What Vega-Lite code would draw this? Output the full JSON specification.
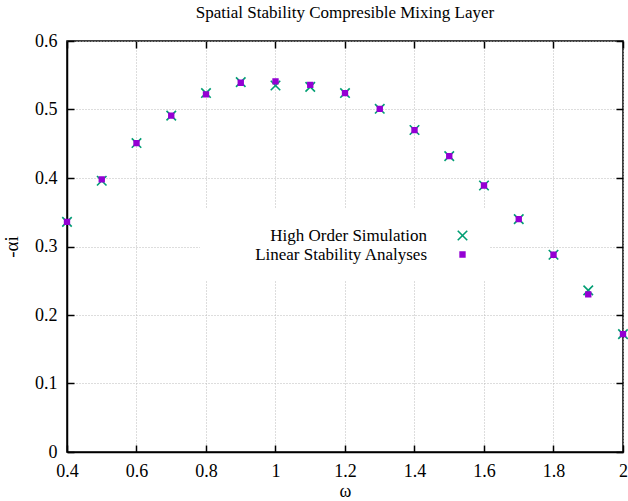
{
  "$schema": "https://vega.github.io/schema/vega-lite/v6.json",
  "width": 556,
  "height": 411,
  "autosize": {"type": "none"},
  "padding": {"left": 67, "top": 41, "right": 5, "bottom": 49},
  "background": "white",
  "title": {"text": "Spatial Stability Compresible Mixing Layer", "font": "Liberation Serif", "fontSize": 17, "fontWeight": "normal", "color": "#000", "offset": 10},
  "config": {
    "view": {"stroke": "#000", "strokeWidth": 1.5}
  },
  "data": {"values": [
    {"w": 0.4, "a": 0.336, "s": "High Order Simulation"},
    {"w": 0.5, "a": 0.396, "s": "High Order Simulation"},
    {"w": 0.6, "a": 0.451, "s": "High Order Simulation"},
    {"w": 0.7, "a": 0.491, "s": "High Order Simulation"},
    {"w": 0.8, "a": 0.524, "s": "High Order Simulation"},
    {"w": 0.9, "a": 0.540, "s": "High Order Simulation"},
    {"w": 1.0, "a": 0.535, "s": "High Order Simulation"},
    {"w": 1.1, "a": 0.533, "s": "High Order Simulation"},
    {"w": 1.2, "a": 0.524, "s": "High Order Simulation"},
    {"w": 1.3, "a": 0.501, "s": "High Order Simulation"},
    {"w": 1.4, "a": 0.470, "s": "High Order Simulation"},
    {"w": 1.5, "a": 0.432, "s": "High Order Simulation"},
    {"w": 1.6, "a": 0.389, "s": "High Order Simulation"},
    {"w": 1.7, "a": 0.340, "s": "High Order Simulation"},
    {"w": 1.8, "a": 0.288, "s": "High Order Simulation"},
    {"w": 1.9, "a": 0.236, "s": "High Order Simulation"},
    {"w": 2.0, "a": 0.172, "s": "High Order Simulation"},
    {"w": 0.4, "a": 0.336, "s": "Linear Stability Analyses"},
    {"w": 0.5, "a": 0.398, "s": "Linear Stability Analyses"},
    {"w": 0.6, "a": 0.451, "s": "Linear Stability Analyses"},
    {"w": 0.7, "a": 0.491, "s": "Linear Stability Analyses"},
    {"w": 0.8, "a": 0.522, "s": "Linear Stability Analyses"},
    {"w": 0.9, "a": 0.539, "s": "Linear Stability Analyses"},
    {"w": 1.0, "a": 0.541, "s": "Linear Stability Analyses"},
    {"w": 1.1, "a": 0.536, "s": "Linear Stability Analyses"},
    {"w": 1.2, "a": 0.524, "s": "Linear Stability Analyses"},
    {"w": 1.3, "a": 0.501, "s": "Linear Stability Analyses"},
    {"w": 1.4, "a": 0.470, "s": "Linear Stability Analyses"},
    {"w": 1.5, "a": 0.432, "s": "Linear Stability Analyses"},
    {"w": 1.6, "a": 0.389, "s": "Linear Stability Analyses"},
    {"w": 1.7, "a": 0.340, "s": "Linear Stability Analyses"},
    {"w": 1.8, "a": 0.288, "s": "Linear Stability Analyses"},
    {"w": 1.9, "a": 0.230, "s": "Linear Stability Analyses"},
    {"w": 2.0, "a": 0.172, "s": "Linear Stability Analyses"}
  ]},
  "layer": [
    {
      "mark": {"type": "point", "opacity": 0},
      "encoding": {
        "x": {"field": "w", "type": "quantitative", "scale": {"domain": [0.4, 2], "nice": false, "zero": false}, "axis": {"orient": "top", "labels": false, "grid": false, "title": null, "values": [0.4, 0.6, 0.8, 1, 1.2, 1.4, 1.6, 1.8, 2], "domain": false, "tickSize": -7, "tickWidth": 1.5, "tickColor": "#000"}},
        "y": {"field": "a", "type": "quantitative", "scale": {"domain": [0, 0.6], "nice": false}, "axis": {"orient": "right", "labels": false, "grid": false, "title": null, "values": [0, 0.1, 0.2, 0.3, 0.4, 0.5, 0.6], "domain": false, "tickSize": -7, "tickWidth": 1.5, "tickColor": "#000"}}
      }
    },
    {
      "mark": {"type": "point", "filled": true, "opacity": 1, "strokeWidth": 1.6, "size": 90},
      "encoding": {
        "x": {"field": "w", "type": "quantitative", "title": "ω", "axis": {"orient": "bottom", "values": [0.4, 0.6, 0.8, 1, 1.2, 1.4, 1.6, 1.8, 2], "grid": true, "gridColor": "#bbb", "gridDash": [1, 2], "gridWidth": 1, "domainColor": "#000", "domainWidth": 1.5, "tickColor": "#000", "tickWidth": 1.5, "tickSize": -7, "labelPadding": 17, "titlePadding": 2, "labelFlush": false, "labelFont": "Liberation Serif", "labelFontSize": 18, "labelColor": "#000", "titleFont": "Liberation Serif", "titleFontSize": 18, "titleFontWeight": "normal", "titleColor": "#000", "labelExpr": "datum.value == 1 || datum.value == 2 ? format(datum.value, 'd') : format(datum.value, '.1f')"}},
        "y": {"field": "a", "type": "quantitative", "title": "-αi", "axis": {"orient": "left", "values": [0, 0.1, 0.2, 0.3, 0.4, 0.5, 0.6], "grid": true, "gridColor": "#bbb", "gridDash": [1, 2], "gridWidth": 1, "domainColor": "#000", "domainWidth": 1.5, "tickColor": "#000", "tickWidth": 1.5, "tickSize": -7, "labelPadding": 17, "titlePadding": 13, "labelFlush": false, "labelFont": "Liberation Serif", "labelFontSize": 18, "labelColor": "#000", "titleFont": "Liberation Serif", "titleFontSize": 19, "titleFontWeight": "normal", "titleColor": "#000", "labelExpr": "datum.value == 0 ? '0' : format(datum.value, '.1f')"}},
        "shape": {"field": "s", "type": "nominal", "sort": null, "scale": {"domain": ["High Order Simulation", "Linear Stability Analyses"], "range": ["M-1,-1L1,1M1,-1L-1,1", "M-0.5,-0.5H0.5V0.5H-0.5Z"]}, "legend": {"title": "\u00a0", "titleOrient": "left", "titlePadding": 236, "titleFontSize": 10, "orient": "none", "legendX": 133, "legendY": 168, "fillColor": "white", "padding": 18, "labelFont": "Liberation Serif", "labelFontSize": 17, "labelColor": "#000", "labelAlign": "right", "labelOffset": -44, "labelLimit": 400, "rowPadding": 1, "symbolSize": 90, "symbolStrokeWidth": 1.6}},
        "color": {"field": "s", "type": "nominal", "sort": null, "scale": {"domain": ["High Order Simulation", "Linear Stability Analyses"], "range": ["#009e73", "#9400d3"]}},
        "stroke": {"field": "s", "type": "nominal", "sort": null, "scale": {"domain": ["High Order Simulation", "Linear Stability Analyses"], "range": ["#009e73", "#9400d3"]}}
      }
    }
  ],
  "resolve": {"axis": {"x": "independent", "y": "independent"}}
}
